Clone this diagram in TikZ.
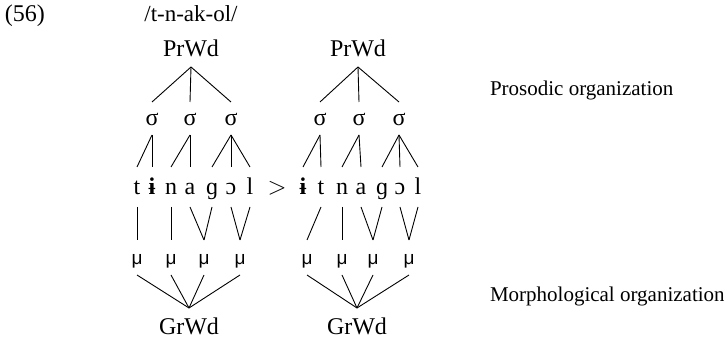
\documentclass[tikz,border=0pt]{standalone}
\usepackage{fontspec}
\setmainfont{Liberation Serif}
\newfontfamily\musans{Liberation Sans}
\begin{document}
\begin{tikzpicture}[x=1pt,y=-1pt,
  every node/.style={inner sep=0pt,outer sep=0pt,font=\fontsize{24}{28}\selectfont},
  txt/.style={anchor=base},
  lbl/.style={anchor=base west,font=\fontsize{21}{25}\selectfont},
  top/.style={text depth=10pt},
  syl/.style={text height=24pt,text depth=9pt},
  seg/.style={text height=28pt,text depth=12pt},
  mora/.style={text height=25pt,text depth=10pt,font=\musans\fontsize{19}{22}\selectfont},
  bot/.style={text height=27pt,text depth=6pt},
  br/.style={line width=0.9pt}]
\useasboundingbox (0,0) rectangle (724,339);
% headers
\node[lbl,font=\fontsize{24}{28}\selectfont] (num) at (5,22) {(56)};
\node[txt,font=\fontsize{23}{27}\selectfont] (ur) at (191,22) {/t-n-ak-ol/};
\node[lbl] (pros) at (490,96) {Prosodic organization};
\node[lbl] (morph) at (490,302) {Morphological organization};
% ---------- left tree ----------
\node[txt,top] (Lp) at (191,57) {PrWd};
\node[txt,syl] (Ls1) at (152,126) {σ};
\node[txt,syl] (Ls2) at (190,126) {σ};
\node[txt,syl] (Ls3) at (231,126) {σ};
\node[txt,seg] (Lt) at (137,195) {t};
\node[txt,seg] (Li) at (152,195) {\bfseries ɨ};
\node[txt,seg] (Ln) at (171,195) {n};
\node[txt,seg] (La) at (190,195) {a};
\node[txt,seg] (Lg) at (212,195) {ɡ};
\node[txt,seg] (Lo) at (231,195) {ɔ};
\node[txt,seg] (Ll) at (250,195) {l};
\node[txt,mora] (Lm1) at (137,265) {μ};
\node[txt,mora] (Lm2) at (171,265) {μ};
\node[txt,mora] (Lm3) at (204,265) {μ};
\node[txt,mora] (Lm4) at (240,265) {μ};
\node[txt,bot] (Lg0) at (189,335) {GrWd};
\node[txt] (gt) at (277,195) {$>$};
% ---------- right tree ----------
\node[txt,top] (Rp) at (358,57) {PrWd};
\node[txt,syl] (Rs1) at (320,126) {σ};
\node[txt,syl] (Rs2) at (359,126) {σ};
\node[txt,syl] (Rs3) at (399,126) {σ};
\node[txt,seg] (Ri) at (303,195) {\bfseries ɨ};
\node[txt,seg] (Rt) at (321,195) {t};
\node[txt,seg] (Rn) at (342,195) {n};
\node[txt,seg] (Ra) at (361,195) {a};
\node[txt,seg] (Rg) at (382,195) {ɡ};
\node[txt,seg] (Ro) at (400,195) {ɔ};
\node[txt,seg] (Rl) at (418,195) {l};
\node[txt,mora] (Rm1) at (307,265) {μ};
\node[txt,mora] (Rm2) at (342,265) {μ};
\node[txt,mora] (Rm3) at (373,265) {μ};
\node[txt,mora] (Rm4) at (409,265) {μ};
\node[txt,bot] (Rg0) at (357,335) {GrWd};
% ---------- connectors left ----------
\foreach \s in {Ls1,Ls2,Ls3} \draw[br] (Lp.south) -- (\s.north);
\foreach \s in {Lt,Li} \draw[br] (Ls1.south) -- (\s.north);
\foreach \s in {Ln,La} \draw[br] (Ls2.south) -- (\s.north);
\foreach \s in {Lg,Lo,Ll} \draw[br] (Ls3.south) -- (\s.north);
\draw[br] (Lt.south) -- (Lm1.north);
\draw[br] (Ln.south) -- (Lm2.north);
\draw[br] (La.south) -- (Lm3.north);
\draw[br] (Lg.south) -- (Lm3.north);
\draw[br] (Lo.south) -- (Lm4.north);
\draw[br] (Ll.south) -- (Lm4.north);
\foreach \m in {Lm1,Lm2,Lm3,Lm4} \draw[br] (\m.south) -- (Lg0.north);
% ---------- connectors right ----------
\foreach \s in {Rs1,Rs2,Rs3} \draw[br] (Rp.south) -- (\s.north);
\foreach \s in {Ri,Rt} \draw[br] (Rs1.south) -- (\s.north);
\foreach \s in {Rn,Ra} \draw[br] (Rs2.south) -- (\s.north);
\foreach \s in {Rg,Ro,Rl} \draw[br] (Rs3.south) -- (\s.north);
\draw[br] (Rt.south) -- (Rm1.north);
\draw[br] (Rn.south) -- (Rm2.north);
\draw[br] (Ra.south) -- (Rm3.north);
\draw[br] (Rg.south) -- (Rm3.north);
\draw[br] (Ro.south) -- (Rm4.north);
\draw[br] (Rl.south) -- (Rm4.north);
\foreach \m in {Rm1,Rm2,Rm3,Rm4} \draw[br] (\m.south) -- (Rg0.north);
\end{tikzpicture}
\end{document}
